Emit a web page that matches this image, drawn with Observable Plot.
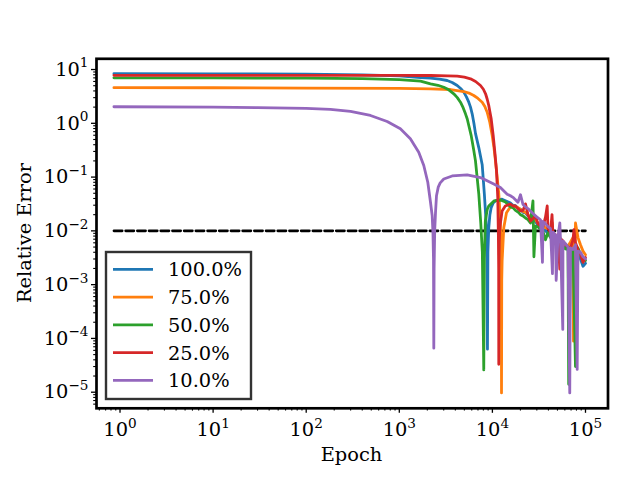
<!DOCTYPE html>
<html><head><meta charset="utf-8">
<script src="https://cdn.jsdelivr.net/npm/d3@7"></script>
<script src="https://cdn.jsdelivr.net/npm/@observablehq/plot@0.6"></script>
<style>html,body{margin:0;padding:0;background:#fff;overflow:hidden}</style>
</head><body><div id="chart"></div>
<script>
const seriesNames = ["100.0%", "75.0%", "50.0%", "25.0%", "10.0%"];
const seriesColors = ["#1f77b4", "#ff7f0e", "#2ca02c", "#d62728", "#9467bd"];

const threshold = 0.01;
const thresholdEpochs = [0.86, 100000];

const epochs100 = [0.86, 10, 100, 400, 1000, 1690, 2163, 2700, 3270, 3700, 4188, 4560, 4930, 5260, 5578, 5820, 6065, 6330, 6580, 7150, 7770, 8200, 8550, 8750, 8850, 8950, 9140, 9400, 9700, 10200, 10770, 11500, 12700, 14000,
  15630, 16630, 17690, 18820, 20020, 21300, 22660, 24100, 25640, 27280, 29020, 30870, 32840, 34940, 37170, 39540, 42060, 44750, 47600, 50640, 53870, 57310, 60970, 64860, 69000, 73400, 78080, 83060, 88360, 94000, 100000];
const error100 = [8.35, 8.33, 8.2, 7.95, 7.6, 7.1, 6.9, 6.6, 6.25, 5.75, 5.05, 4.45, 3.79, 3.1, 2.47, 2.0, 1.5, 1.0, 0.65, 0.35, 0.17, 0.048, 0.015, 0.005, 6.3e-5, 0.004, 0.0114, 0.02, 0.027, 0.033, 0.036, 0.038, 0.0387, 0.036,
  0.033, 0.030, 0.0295, 0.026, 0.0255, 0.022, 0.0215, 0.019, 0.0178, 0.0155, 0.0150, 0.0128, 0.0125, 0.0105, 0.0102, 0.0088, 0.0085, 0.0072, 0.0070, 0.0060, 0.0058, 0.0050, 0.0050, 0.0044, 0.0045, 0.0039, 0.0046, 0.0036, 0.0030, 0.0022, 0.0025];

const epochs75 = [0.86, 10, 100, 1000, 2163, 3548, 4930, 5600, 6310, 7000, 7770, 8300, 8790, 9375, 9950, 10400, 10790, 11250, 11720, 12100, 12350, 12480, 12530, 12600, 12720, 13250, 14170, 15380, 16990,
  18820, 20020, 21300, 22660, 24100, 25640, 27280, 29020, 30870, 32840, 34940, 37170, 39540, 42060, 43870, 44750, 47600, 50640, 53870, 57310, 60970, 64860, 69000, 73400, 74300, 78080, 83060, 88360, 94000, 100000];
const error75 = [4.6, 4.58, 4.52, 4.45, 4.38, 4.25, 3.9, 3.65, 3.29, 2.9, 2.47, 2.05, 1.61, 1.05, 0.593, 0.35, 0.2, 0.1, 0.048, 0.02, 0.006, 0.0015, 9.7e-6, 0.0012, 0.00275, 0.0114, 0.0218, 0.027, 0.029,
  0.027, 0.025, 0.023, 0.022, 0.020, 0.018, 0.017, 0.016, 0.014, 0.013, 0.012, 0.0115, 0.011, 0.0105, 0.0143, 0.009, 0.0085, 0.0075, 0.0068, 0.006, 0.0056, 0.0052, 0.0062, 0.0075, 0.000089, 0.014, 0.0075, 0.0055, 0.0042, 0.0036];

const epochs50 = [0.86, 10, 100, 400, 1000, 1690, 2163, 2600, 3006, 3400, 3849, 4200, 4540, 4850, 5140, 5370, 5578, 5920, 6300, 6580, 7145, 7500, 7800, 8080, 8200, 8400, 8800, 9140, 10400, 12190, 13800,
  15630, 16630, 17690, 18820, 20020, 21300, 22660, 24100, 25640, 27280, 27930, 29020, 30870, 32840, 34940, 37170, 39540, 42060, 44750, 47600, 50640, 53870, 57310, 60970, 64860, 66000, 69000, 73400, 78080, 83060, 88360, 94000, 100000];
const error50 = [7.0, 6.98, 6.9, 6.75, 6.5, 6.1, 5.43, 5.1, 4.69, 4.2, 3.54, 3.0, 2.47, 1.95, 1.5, 1.2, 0.91, 0.59, 0.32, 0.2, 0.048, 0.014, 0.004, 2.6e-5, 0.003, 0.0153, 0.025, 0.029, 0.036, 0.0375, 0.0345,
  0.028, 0.027, 0.024, 0.0225, 0.020, 0.019, 0.0173, 0.0162, 0.014, 0.036, 0.0033, 0.0123, 0.0118, 0.0108, 0.0098, 0.0068, 0.0092, 0.0075, 0.0070, 0.0060, 0.0063, 0.0057, 0.0050, 0.0046, 0.0050, 1.4e-5, 0.0046, 0.0044, 3e-5, 0.0048, 0.0037, 0.0030, 0.0028];

const epochs25 = [0.86, 10, 100, 1000, 1690, 2163, 3300, 4188, 5000, 5820, 6600, 7450, 8000, 8445, 8800, 9140, 9420, 9710, 10200, 10650, 11070, 11420, 11600, 11680, 11710, 11740, 11850, 12000, 12720, 13750,
  15630, 16630, 17690, 18820, 20020, 21300, 22660, 24100, 25640, 27280, 29020, 30870, 32840, 34940, 37170, 38800, 39540, 42060, 43700, 44750, 47600, 50640, 52990, 53870, 57310, 60970, 64860, 69000, 73400, 75200, 78080, 83060, 88360, 94000, 100000];
const error25 = [7.8, 7.8, 7.78, 7.76, 7.75, 7.74, 7.65, 7.51, 7.2, 6.72, 6.0, 5.05, 4.3, 3.54, 2.8, 2.14, 1.6, 1.21, 0.593, 0.28, 0.13, 0.042, 0.008, 0.002, 3.3e-5, 0.002, 0.006, 0.0114, 0.0235, 0.029,
  0.0315, 0.029, 0.029, 0.026, 0.0235, 0.024, 0.0317, 0.020, 0.0153, 0.017, 0.0189, 0.0135, 0.0123, 0.012, 0.018, 0.029, 0.011, 0.0095, 0.02, 0.0085, 0.008, 0.0075, 0.00195, 0.0072, 0.0065, 0.0055, 0.005, 0.0048, 0.0068, 0.0105, 0.006, 0.0045, 0.0036, 0.0026, 0.0032];

const epochs10 = [0.86, 10, 30, 100, 182, 299, 490, 741, 1027, 1315, 1617, 1832, 2023, 2163, 2255, 2300, 2330, 2348, 2365, 2400, 2449, 2509, 2620, 2750, 3006, 3697, 5360, 7450, 10350, 12190, 14420,
  15630, 16630, 17690, 18820, 20020, 21300, 22660, 24100, 25640, 27280, 29020, 30870, 32840, 34500, 34940, 37170, 39540, 42060, 44170, 44750, 47600, 48450, 50640, 52990, 53870, 57040, 57310, 60970, 64860, 67780, 69000, 73400, 78080, 81430, 83060, 88360, 94000, 100000];
const error10 = [2.03, 2.0, 1.96, 1.9, 1.81, 1.66, 1.40, 1.08, 0.79, 0.515, 0.29, 0.164, 0.080, 0.034, 0.0193, 0.009, 0.003, 6.6e-5, 0.002, 0.01, 0.022, 0.045, 0.065, 0.078, 0.092, 0.105, 0.11, 0.098, 0.074, 0.064, 0.048,
  0.045, 0.042, 0.038, 0.034, 0.047, 0.031, 0.028, 0.026, 0.0235, 0.021, 0.019, 0.0175, 0.016, 0.0026, 0.015, 0.0135, 0.012, 0.011, 0.0016, 0.0095, 0.0085, 0.0012, 0.0078, 0.0141, 0.007, 0.000147, 0.0065, 0.0058, 0.005, 9.7e-6, 0.0048, 0.0045, 0.0055, 2.65e-5, 0.0042, 0.004, 0.0033, 0.003];

const xMajorTicks = [1, 10, 100, 1000, 10000, 100000];
const xTickLabels = ["10^0", "10^1", "10^2", "10^3", "10^4", "10^5"];
const yMajorTicks = [1e-5, 1e-4, 1e-3, 1e-2, 1e-1, 1, 10];
const yTickLabels = ["10^\u22125", "10^\u22124", "10^\u22123", "10^\u22122", "10^\u22121", "10^0", "10^1"];

const xDomain = [0.559, 174500];
const yDomain = [5.02e-6, 15.83];

function minorTicks(domain) {
  const out = [];
  for (let e = Math.floor(Math.log10(domain[0])); e <= Math.ceil(Math.log10(domain[1])); e++) {
    for (let k = 2; k <= 9; k++) {
      const v = k * Math.pow(10, e);
      if (v >= domain[0] && v <= domain[1]) out.push(v);
    }
  }
  return out;
}

const seriesData = [[epochs100, error100], [epochs75, error75], [epochs50, error50], [epochs25, error25], [epochs10, error10]];
const rows = [];
seriesNames.forEach((name, i) => {
  const [ep, er] = seriesData[i];
  ep.forEach((e, j) => rows.push({epoch: e, error: er[j], series: name}));
});
const thresholdRows = thresholdEpochs.map(e => ({epoch: e, error: threshold}));

const svg = Plot.plot({
  width: 640, height: 480,
  marginLeft: 96, marginRight: 32.5, marginTop: 58.3, marginBottom: 72.2,
  style: {fontFamily: "'DejaVu Serif', serif", fontSize: "19.4px", background: "white", color: "black"},
  x: {type: "log", domain: xDomain},
  y: {type: "log", domain: yDomain},
  color: {domain: seriesNames, range: seriesColors},
  marks: [
    Plot.line(thresholdRows, {x: "epoch", y: "error", stroke: "black", strokeWidth: 2.6, strokeDasharray: "8.3,3.4"}),
    Plot.line(rows, {x: "epoch", y: "error", z: "series", stroke: "series", strokeWidth: 2.8, clip: true}),
    Plot.axisX(minorTicks(xDomain), {tickSize: 2.8, tickFormat: () => "", label: null, strokeWidth: 1.1}),
    Plot.axisX(xMajorTicks, {tickSize: 5, tickPadding: 9, tickFormat: d => xTickLabels[xMajorTicks.indexOf(d)], label: null, strokeWidth: 1.3}),
    Plot.axisY(minorTicks(yDomain), {tickSize: 2.8, tickFormat: () => "", label: null, strokeWidth: 1.1}),
    Plot.axisY(yMajorTicks, {tickSize: 5, tickPadding: 3, tickFormat: d => yTickLabels[yMajorTicks.indexOf(d)], label: null, strokeWidth: 1.3}),
    Plot.frame({stroke: "black", strokeWidth: 2.7})
  ]
});

const root = d3.select(svg);
root.selectAll("text").each(function () {
  const s = this.textContent;
  if (s.includes("^")) {
    const [base, exp] = s.split("^");
    const t = d3.select(this);
    t.text(null);
    t.append("tspan").text(base);
    t.append("tspan").attr("dy", "-8.3").attr("font-size", "13.6px").text(exp);
  }
});

root.append("text").attr("x", 351.5).attr("y", 460.5).attr("text-anchor", "middle").attr("fill", "black").text("Epoch");
root.append("text").attr("transform", "translate(31,233) rotate(-90)").attr("text-anchor", "middle").attr("fill", "black").text("Relative Error");

const lg = root.append("g");
lg.append("rect").attr("x", 106).attr("y", 252).attr("width", 145).attr("height", 147)
  .attr("fill", "white").attr("fill-opacity", 0.8).attr("stroke", "#333").attr("stroke-width", 2.4);
seriesNames.forEach((n, i) => {
  const cy = 269.3 + i * 27.75;
  lg.append("line").attr("x1", 113).attr("x2", 153).attr("y1", cy).attr("y2", cy)
    .attr("stroke", seriesColors[i]).attr("stroke-width", 2.8);
  lg.append("text").attr("x", 168).attr("y", cy + 7).attr("text-anchor", "start").attr("fill", "black").text(n);
});

document.getElementById("chart").appendChild(svg);
</script>
</body></html>
